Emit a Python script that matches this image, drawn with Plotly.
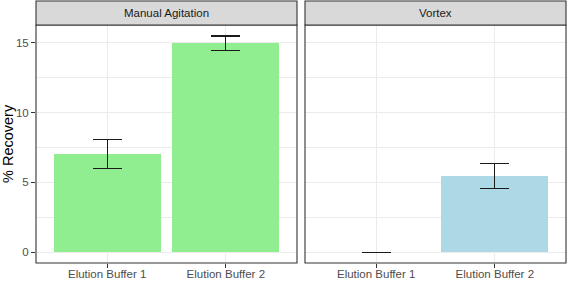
import plotly.graph_objects as go

panels = ["Manual Agitation", "Vortex"]
categories = ["Elution Buffer 1", "Elution Buffer 2"]
manual_vals = [7.03, 14.97]
manual_err = [1.03, 0.52]
vortex_vals = [0.0, 5.45]
vortex_err = [0.0, 0.9]
colors = {"Manual Agitation": "#90EE90", "Vortex": "#ADD8E6"}
y_ticks = [0, 5, 10, 15]

FONT = "Liberation Sans, Arial, sans-serif"
W, H = 569, 281
ml, mr, mt, mb = 36, 3, 1, 18
pw = W - ml - mr
ph = H - mt - mb
strip_h = 24
ydom_top = (ph - strip_h) / ph
gap = 8
left_dom = [0, (pw - gap) / 2 / pw]
right_dom = [1 - (pw - gap) / 2 / pw, 1]

fig = go.Figure()
for i, (name, vals, errs) in enumerate([(panels[0], manual_vals, manual_err), (panels[1], vortex_vals, vortex_err)]):
    ax = "" if i == 0 else "2"
    fig.add_trace(go.Bar(
        x=categories, y=vals, width=0.9,
        marker=dict(color=colors[name], line=dict(width=0)),
        error_y=dict(type="data", array=errs, visible=True, color="#1A1A1A", thickness=1.1, width=14.5),
        xaxis="x" + ax, yaxis="y" + ax, showlegend=False, hoverinfo="skip",
    ))

grid = "#EBEBEB"
tickfont = dict(family=FONT, size=11.5, color="#4D4D4D")
xcommon = dict(type="category", range=[-0.6, 1.6], showgrid=True, gridcolor=grid, gridwidth=1,
               ticks="outside", ticklen=4, tickcolor="#333333", tickwidth=1, automargin=False,
               ticklabelstandoff=-4,
               tickfont=tickfont, zeroline=False, showline=False)
ycommon = dict(range=[-0.775, 16.275], tickvals=y_ticks, showgrid=True, gridcolor=grid, gridwidth=1,
               minor=dict(tickvals=[2.5, 7.5, 12.5], showgrid=True, gridcolor=grid, gridwidth=0.6),
               zeroline=False, showline=False, domain=[0, ydom_top], automargin=False)

fig.update_layout(
    width=W, height=H, margin=dict(l=ml, r=mr, t=mt, b=mb, autoexpand=False),
    paper_bgcolor="white", plot_bgcolor="white", bargap=0,
    xaxis=dict(domain=left_dom, anchor="y", **xcommon),
    xaxis2=dict(domain=right_dom, anchor="y2", **xcommon),
    yaxis=dict(anchor="x", ticks="outside", ticklen=4, tickcolor="#333333", tickwidth=1,
               tickfont=tickfont, **ycommon),
    yaxis2=dict(anchor="x2", matches="y", showticklabels=False, ticks="", **ycommon),
)

shapes = []
annotations = []
for i, name in enumerate(panels):
    ax = "x" if i == 0 else "x2"
    ay = "y" if i == 0 else "y2"
    shapes.append(dict(type="rect", xref=ax + " domain", yref=ay + " domain", x0=0, x1=1, y0=0, y1=1,
                       line=dict(color="#333333", width=1.1), fillcolor="rgba(0,0,0,0)", layer="above"))
    shapes.append(dict(type="rect", xref=ax + " domain", yref="paper", x0=0, x1=1, y0=ydom_top, y1=1,
                       line=dict(color="#333333", width=1.1), fillcolor="#D9D9D9", layer="above"))
    annotations.append(dict(text=name, xref=ax + " domain", yref="paper", x=0.5, y=(1 + ydom_top) / 2,
                            showarrow=False, xanchor="center", yanchor="middle",
                            font=dict(family=FONT, size=11.5, color="#1A1A1A")))
annotations.append(dict(text="% Recovery", xref="paper", yref="y domain", x=0, y=0.5, xshift=-28,
                        textangle=-90, showarrow=False, xanchor="center", yanchor="middle",
                        font=dict(family=FONT, size=14.5, color="#000000")))
fig.update_layout(shapes=shapes, annotations=annotations)

fig.write_html("out.html", config={"displayModeBar": False},
               post_script="document.body.style.margin='0';document.body.style.padding='0';")
